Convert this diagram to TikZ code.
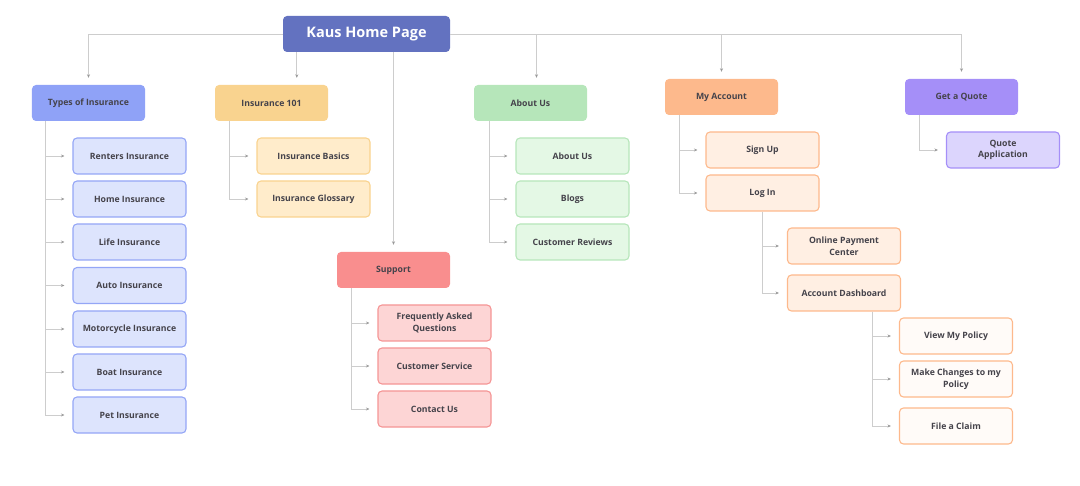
\documentclass[tikz,border=0pt]{standalone}
\usepackage{fontspec}
\setmainfont{Open Sans}
\usetikzlibrary{arrows.meta}
\definecolor{txt}{HTML}{45434B}
\definecolor{lin}{HTML}{CDCDCD}
\definecolor{arr}{HTML}{9A9A9A}
\definecolor{rootc}{HTML}{6372C0}
\definecolor{typP}{HTML}{8FA2F7}\definecolor{typC}{HTML}{DDE4FD}\definecolor{typB}{HTML}{94A6F6}
\definecolor{insP}{HTML}{F9D38F}\definecolor{insC}{HTML}{FFECCB}\definecolor{insB}{HTML}{F9D38F}
\definecolor{supP}{HTML}{F98E8E}\definecolor{supC}{HTML}{FDD5D5}\definecolor{supB}{HTML}{F59595}
\definecolor{abtP}{HTML}{B6E6BA}\definecolor{abtC}{HTML}{E4F8E5}\definecolor{abtB}{HTML}{B6E6BA}
\definecolor{accP}{HTML}{FDB98C}\definecolor{accC}{HTML}{FFEFE3}\definecolor{accB}{HTML}{FDB98C}\definecolor{accD}{HTML}{FFFBF8}
\definecolor{quoP}{HTML}{A58FF8}\definecolor{quoC}{HTML}{DCD5FD}\definecolor{quoB}{HTML}{A58FF8}
\tikzset{
  box/.style={rounded corners=4bp, minimum width=113bp, minimum height=36bp, align=center,
    inner sep=0pt, text=txt, font=\fontsize{8.7bp}{11.5bp}\selectfont\bfseries},
  parent/.style={box, fill=#1},
  child/.style={box, fill=#1, line width=1.1bp},
  conn/.style={draw=lin, line width=0.9bp, -{Stealth[length=3.5bp,width=3bp,color=arr]}, shorten >=8bp},
  connr/.style={draw=lin, line width=0.9bp, -{Stealth[length=3.5bp,width=3bp,color=arr]}, shorten >=7bp},
}
\begin{document}
\begin{tikzpicture}[x=1bp,y=-1bp]
\useasboundingbox (0,0) rectangle (1080,486);
% root
\node[box, fill=rootc, minimum width=167bp, text=white, font=\fontsize{14.5bp}{16bp}\selectfont\bfseries] (root) at (366.5,34) {Kaus Home Page};
% level 1
\node[parent=typP] (types) at (88.5,103) {Types of Insurance};
\node[parent=insP] (ins) at (271.5,103) {Insurance 101};
\node[parent=abtP] (about) at (530.5,103) {About Us};
\node[parent=accP] (acct) at (721.5,97) {My Account};
\node[parent=quoP] (quote) at (961.5,97) {Get a Quote};
\node[parent=supP] (support) at (393.5,270) {Support};
% types children
\node[child=typC, draw=typB] (t1) at (129.5,156) {Renters Insurance};
\node[child=typC, draw=typB] (t2) at (129.5,199) {Home Insurance};
\node[child=typC, draw=typB] (t3) at (129.5,242) {Life Insurance};
\node[child=typC, draw=typB] (t4) at (129.5,285.5) {Auto Insurance};
\node[child=typC, draw=typB] (t5) at (129.5,329) {Motorcycle Insurance};
\node[child=typC, draw=typB] (t6) at (129.5,372) {Boat Insurance};
\node[child=typC, draw=typB] (t7) at (129.5,415) {Pet Insurance};
% insurance 101 children
\node[child=insC, draw=insB] (i1) at (313.5,156) {Insurance Basics};
\node[child=insC, draw=insB] (i2) at (313.5,199) {Insurance Glossary};
% support children
\node[child=supC, draw=supB] (s1) at (434.5,323) {Frequently Asked\\Questions};
\node[child=supC, draw=supB] (s2) at (434.5,366) {Customer Service};
\node[child=supC, draw=supB] (s3) at (434.5,409) {Contact Us};
% about children
\node[child=abtC, draw=abtB] (a1) at (572.5,156) {About Us};
\node[child=abtC, draw=abtB] (a2) at (572.5,199) {Blogs};
\node[child=abtC, draw=abtB] (a3) at (572.5,242) {Customer Reviews};
% account children
\node[child=accC, draw=accB] (m1) at (762.5,150) {Sign Up};
\node[child=accC, draw=accB] (m2) at (762.5,193) {Log In};
\node[child=accC, draw=accB] (l1) at (844,246) {Online Payment\\Center};
\node[child=accC, draw=accB] (l2) at (844,293) {Account Dashboard};
\node[child=accD, draw=accB] (d1) at (956,336) {View My Policy};
\node[child=accD, draw=accB] (d2) at (956,379) {Make Changes to my\\Policy};
\node[child=accD, draw=accB] (d3) at (956,426) {File a Claim};
% quote child
\node[child=quoC, draw=quoB] (q1) at (1003,150) {Quote\\Application};
% root connectors
\draw[connr] (root.west) -| (types.north);
\draw[connr] ([xshift=14bp]root.south west) -- ([xshift=14bp]root.south west |- ins.north);
\draw[connr] (support.north |- root.south) -- (support.north);
\draw[connr] (root.east) -| ([xshift=6bp]about.north);
\draw[connr] (root.east) -| (acct.north);
\draw[connr] (root.east) -| (quote.north);
% trunk connectors
\foreach \c in {t1,t2,t3,t4,t5,t6,t7}{\draw[conn] ([xshift=14bp]types.south west) |- (\c.west);}
\foreach \c in {i1,i2}{\draw[conn] ([xshift=15bp]ins.south west) |- (\c.west);}
\foreach \c in {s1,s2,s3}{\draw[conn] ([xshift=15bp]support.south west) |- (\c.west);}
\foreach \c in {a1,a2,a3}{\draw[conn] ([xshift=16bp]about.south west) |- (\c.west);}
\foreach \c in {m1,m2}{\draw[conn] ([xshift=15bp]acct.south west) |- (\c.west);}
\foreach \c in {l1,l2}{\draw[conn] ([xshift=57bp]m2.south west) |- (\c.west);}
\foreach \c in {d1,d2,d3}{\draw[conn] ([xshift=85bp]l2.south west) |- (\c.west);}
\draw[conn] ([xshift=15bp]quote.south west) |- (q1.west);
\end{tikzpicture}
\end{document}
